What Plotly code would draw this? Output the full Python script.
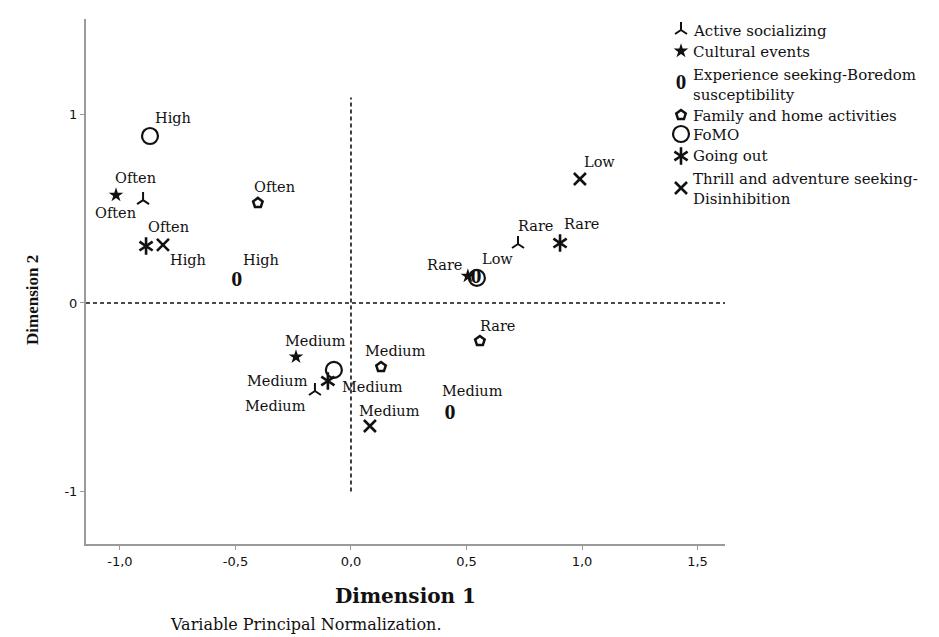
import plotly.graph_objects as go

W, H = 939, 637

# ---------------- data ----------------
active_x = [-0.900, -0.156, 0.723]
active_y = [0.546, -0.467, 0.313]
active_lab = ["Often", "Medium", "Rare"]

cultural_x = [-1.017, -0.238, 0.506]
cultural_y = [0.573, -0.286, 0.143]
cultural_lab = ["Often", "Medium", "Rare"]

exper_x = [-0.494, 0.429, 0.541]
exper_y = [0.117, -0.589, 0.133]
exper_lab = ["High", "Medium", ""]

family_x = [-0.403, 0.130, 0.558]
family_y = [0.531, -0.340, -0.202]
family_lab = ["Often", "Medium", "Rare"]

fomo_x = [-0.870, -0.074, 0.545]
fomo_y = [0.886, -0.355, 0.133]
fomo_lab = ["High", "Medium", "Low"]

going_x = [-0.887, -0.100, 0.905]
going_y = [0.302, -0.414, 0.318]
going_lab = ["Often", "Medium", "Rare"]

thrill_x = [-0.814, 0.082, 0.991]
thrill_y = [0.308, -0.653, 0.658]
thrill_lab = ["High", "Medium", "Low"]

legend_names = [
    "Active socializing",
    "Cultural events",
    "Experience seeking-Boredom<br>susceptibility",
    "Family and home activities",
    "FoMO",
    "Going out",
    "Thrill and adventure seeking-<br>Disinhibition",
]

x_ticks = [-1.0, -0.5, 0.0, 0.5, 1.0, 1.5]
x_ticklabels = ["-1,0", "-0,5", "0,0", "0,5", "1,0", "1,5"]
y_ticks = [-1, 0, 1]
y_ticklabels = ["-1", "0", "1"]

# ---------------- styling / layout ----------------
SERIF = "DejaVu Serif"
BLACK = "#111111"
lab_font = dict(family=SERIF, size=14.5, color=BLACK)
ZERO_FONT = dict(family="Liberation Serif", size=22, color=BLACK)

# label offsets (pixels, dx right, dy down) per point
off_active = [(-28, 13), (-39, 15), (17, -18)]
off_cultural = [(19, -17), (19, -16), (-23, -11)]
off_exper = [(24, -21), (22, -23), (0, 0)]
off_family = [(17, -16), (14, -16), (18, -15)]
off_fomo = [(23, -18), (39, 17), (21, -19)]
off_going = [(22, -19), (-50, 0), (21, -19)]
off_thrill = [(25, 15), (20, -15), (20, -17)]

fig = go.Figure()

def mk(symbol, size, lw, fill=False):
    if fill:
        return dict(symbol=symbol, size=size, color=BLACK, line=dict(width=0))
    return dict(symbol=symbol, size=size, color=BLACK, line=dict(color=BLACK, width=lw))

styles = {
    "active": [mk("y-up", 10, 2)],
    "cultural": [mk("star", 11, 0, fill=True)],
    "family": [mk("pentagon-open", 10, 2.5)],
    "fomo": [mk("circle-open", 16, 2.2)],
    "going": [mk("y-up", 11, 2.6), mk("y-down", 11, 2.6)],
    "thrill": [mk("x-thin-open", 12, 2.6)],
}

series = [
    ("active", active_x, active_y, active_lab, off_active),
    ("cultural", cultural_x, cultural_y, cultural_lab, off_cultural),
    ("exper", exper_x, exper_y, exper_lab, off_exper),
    ("family", family_x, family_y, family_lab, off_family),
    ("fomo", fomo_x, fomo_y, fomo_lab, off_fomo),
    ("going", going_x, going_y, going_lab, off_going),
    ("thrill", thrill_x, thrill_y, thrill_lab, off_thrill),
]

annotations = []
for key, xs, ys, labs, offs in series:
    if key == "exper":
        fig.add_trace(go.Scatter(
            x=xs, y=ys, mode="text", text=["<b>0</b>"] * len(xs),
            textposition="middle center", textfont=ZERO_FONT,
            showlegend=False, hoverinfo="skip", cliponaxis=False,
        ))
    else:
        for m in styles[key]:
            fig.add_trace(go.Scatter(
                x=xs, y=ys, mode="markers", marker=m,
                showlegend=False, hoverinfo="skip", cliponaxis=False,
            ))
    for x, y, t, (dx, dy) in zip(xs, ys, labs, offs):
        if t:
            annotations.append(dict(
                x=x, y=y, xref="x", yref="y", text=t, showarrow=False,
                xshift=dx, yshift=-dy, font=lab_font,
                xanchor="center", yanchor="middle",
            ))

# ---------------- custom legend (pixel coordinates on overlay axes) -------------
leg_sym_x = 673
leg_text_x = 683
leg_text_rows = [22, 43, 66, 107, 126, 147, 170]
leg_sym_rows = [22, 43, 76, 107, 126, 148, 180]
leg_keys = ["active", "cultural", "exper", "family", "fomo", "going", "thrill"]

for key, ys in zip(leg_keys, leg_sym_rows):
    if key == "exper":
        fig.add_trace(go.Scatter(
            x=[leg_sym_x], y=[ys], xaxis="x2", yaxis="y2", mode="text",
            text=["<b>0</b>"], textposition="middle center",
            textfont=dict(family="Liberation Serif", size=21, color=BLACK),
            showlegend=False, hoverinfo="skip", cliponaxis=False,
        ))
    else:
        for m in styles[key]:
            fig.add_trace(go.Scatter(
                x=[leg_sym_x], y=[ys], xaxis="x2", yaxis="y2", mode="markers",
                marker=dict(m), showlegend=False, hoverinfo="skip", cliponaxis=False,
            ))

for name, ty in zip(legend_names, leg_text_rows):
    annotations.append(dict(
        x=leg_text_x, y=ty - 10, xref="x2", yref="y2", text=name, showarrow=False,
        xanchor="left", yanchor="top", align="left",
        font=dict(family=SERIF, size=15, color=BLACK),
    ))

# axis titles & note
annotations.append(dict(
    x=397, y=588, xref="x2", yref="y2", text="<b>Dimension 1</b>", showarrow=False,
    font=dict(family=SERIF, size=20, color=BLACK), xanchor="center", yanchor="middle",
))
annotations.append(dict(
    x=24, y=292, xref="x2", yref="y2", text="<b>Dimension 2</b>", showarrow=False,
    textangle=-90, font=dict(family="Liberation Serif", size=17, color=BLACK),
    xanchor="center", yanchor="middle",
))
annotations.append(dict(
    x=160, y=616, xref="x2", yref="y2", text="Variable Principal Normalization.",
    showarrow=False, font=dict(family=SERIF, size=16, color=BLACK),
    xanchor="left", yanchor="middle",
))

shapes = [
    dict(type="line", xref="x", yref="y", x0=-1.147, x1=1.619, y0=0, y1=0,
         line=dict(color=BLACK, width=1.6, dash="4px,3px")),
    dict(type="line", xref="x", yref="y", x0=0, x1=0, y0=-1.0, y1=1.09,
         line=dict(color=BLACK, width=1.6, dash="4px,3px")),
]

px_l, px_r, px_t, px_b = 78, 717, 11, 536

fig.update_layout(
    width=W, height=H,
    margin=dict(l=0, r=0, t=0, b=0),
    paper_bgcolor="white", plot_bgcolor="rgba(0,0,0,0)",
    showlegend=False,
    xaxis=dict(
        domain=[px_l / W, px_r / W], range=[-1.147, 1.619],
        tickvals=x_ticks, ticktext=x_ticklabels,
        showgrid=False, zeroline=False, showline=True,
        linecolor="#9a9a9a", linewidth=2,
        ticks="outside", ticklen=4, tickcolor="#9a9a9a", tickwidth=1,
        tickfont=dict(family="DejaVu Sans", size=13, color=BLACK),
        anchor="y",
    ),
    yaxis=dict(
        domain=[1 - px_b / H, 1 - px_t / H], range=[-1.279, 1.507],
        tickvals=y_ticks, ticktext=y_ticklabels,
        showgrid=False, zeroline=False, showline=True,
        linecolor="#9a9a9a", linewidth=2,
        ticks="outside", ticklen=4, tickcolor="#9a9a9a", tickwidth=1,
        tickfont=dict(family="DejaVu Sans", size=13, color=BLACK),
        anchor="x",
    ),
    xaxis2=dict(domain=[0, 1], range=[0, W], visible=False, anchor="y2",
                fixedrange=True),
    yaxis2=dict(domain=[0, 1], range=[H, 0], visible=False, anchor="x2",
                fixedrange=True),
    annotations=annotations,
    shapes=shapes,
)

fig.write_html("out.html")
